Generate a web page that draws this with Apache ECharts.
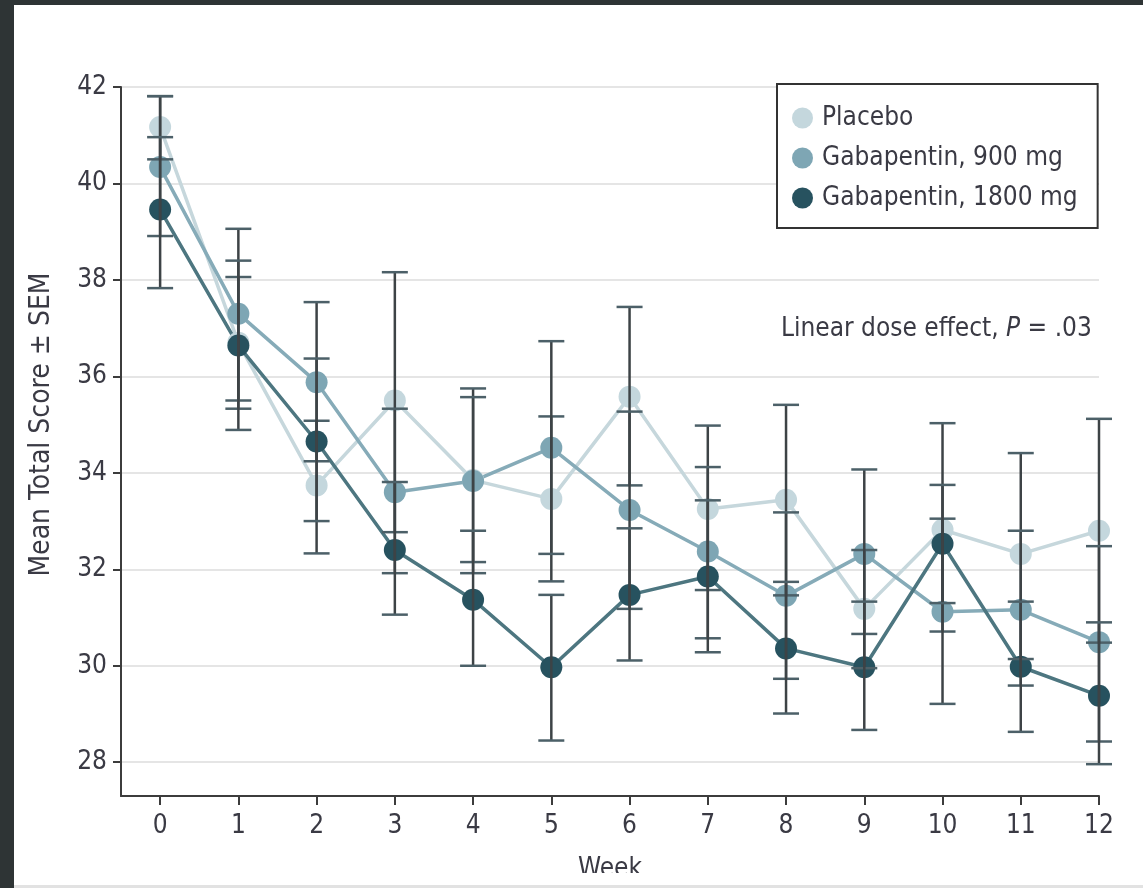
<!DOCTYPE html>
<html>
<head>
<meta charset="utf-8">
<title>Mean Total Score by Week</title>
<script src="https://cdn.jsdelivr.net/npm/echarts@6/dist/echarts.min.js"></script>
<style>
  html, body { margin: 0; padding: 0; background: #fff; }
  #chart { width: 1143px; height: 888px; }
</style>
</head>
<body>
<div id="chart"></div>
<script>
// weeks and y tick values
var weeks = [0, 1, 2, 3, 4, 5, 6, 7, 8, 9, 10, 11, 12];
var yTicks = [28, 30, 32, 34, 36, 38, 40, 42];
var seriesNames = ['Placebo', 'Gabapentin, 900 mg', 'Gabapentin, 1800 mg'];

// means
var placeboMean = [41.17, 36.70, 33.74, 35.50, 33.85, 33.46, 35.58, 33.25, 33.44, 31.18, 32.82, 32.32, 32.80];
var gaba900Mean = [40.34, 37.30, 35.88, 33.60, 33.83, 34.52, 33.23, 32.37, 31.45, 32.32, 31.12, 31.16, 30.49];
var gaba1800Mean = [39.46, 36.64, 34.65, 32.40, 31.37, 29.97, 31.47, 31.85, 30.36, 29.97, 32.53, 29.98, 29.38];

// error bar ends (mean ± SEM)
var placeboHigh = [41.81, 38.06, 35.08, 38.16, 35.75, 35.17, 37.44, 34.98, 35.41, 32.40, 35.03, 34.41, 35.12];
var placeboLow = [40.50, 35.33, 32.33, 32.77, 31.92, 31.75, 33.74, 31.57, 31.46, 29.95, 30.71, 30.14, 30.48];
var gaba900High = [41.81, 39.06, 37.54, 35.33, 35.57, 36.73, 35.27, 34.12, 33.18, 34.07, 33.05, 32.80, 32.48];
var gaba900Low = [38.91, 35.50, 34.24, 31.92, 32.15, 32.32, 31.18, 30.57, 29.73, 30.66, 29.21, 29.59, 28.43];
var gaba1800High = [40.96, 38.40, 36.37, 33.81, 32.80, 31.47, 32.85, 33.43, 31.74, 31.33, 33.75, 31.33, 30.90];
var gaba1800Low = [37.83, 34.89, 33.00, 31.06, 30.00, 28.45, 30.11, 30.28, 29.01, 28.67, 31.30, 28.63, 27.96];

var FONT = "'DejaVu Sans Condensed', 'Liberation Sans Narrow', sans-serif";
var FS = 26;
var TEXT = '#3a3a44';
var AXIS = '#3c3c3c';

function pairs(xs, ys) {
  return xs.map(function (x, i) { return [x, ys[i]]; });
}
function bars(xs, lo, hi) {
  return xs.map(function (x, i) { return [x, lo[i], hi[i]]; });
}

function renderErrorBar(params, api) {
  var lo = api.coord([api.value(0), api.value(1)]);
  var hi = api.coord([api.value(0), api.value(2)]);
  var w = 13;
  return {
    type: 'group',
    children: [
      { type: 'line', shape: { x1: hi[0], y1: hi[1], x2: lo[0], y2: lo[1] },
        style: { stroke: '#3d4346', lineWidth: 2.5 } },
      { type: 'line', shape: { x1: hi[0] - w, y1: hi[1], x2: hi[0] + w, y2: hi[1] },
        style: { stroke: '#4c6068', lineWidth: 2.5 } },
      { type: 'line', shape: { x1: lo[0] - w, y1: lo[1], x2: lo[0] + w, y2: lo[1] },
        style: { stroke: '#4c6068', lineWidth: 2.5 } }
    ]
  };
}

function lineSeries(name, data, dot, line) {
  return {
    name: name,
    type: 'line',
    data: data,
    symbol: 'circle',
    symbolSize: 22,
    itemStyle: { color: dot },
    lineStyle: { color: line, width: 3.5 },
    z: 2
  };
}
function errSeries(data) {
  return {
    type: 'custom',
    renderItem: renderErrorBar,
    data: data,
    encode: { x: 0, y: [1, 2] },
    z: 5,
    silent: true
  };
}

var chart = echarts.init(document.getElementById('chart'), null, { renderer: 'canvas' });

var option = {
  animation: false,
  backgroundColor: '#fff',
  textStyle: { fontFamily: FONT, color: TEXT },
  title: {
    text: '{a|Linear dose effect, }{p|P}{a| = .03}',
    left: 781,
    top: 316,
    padding: 0,
    textStyle: {
      rich: {
        a: { fontFamily: FONT, fontSize: FS, color: TEXT, fontWeight: 'normal' },
        p: { fontFamily: FONT, fontSize: FS, color: TEXT, fontWeight: 'normal', fontStyle: 'italic' }
      }
    }
  },
  legend: {
    data: seriesNames,
    orient: 'vertical',
    left: 777,
    top: 84,
    icon: 'circle',
    itemWidth: 21,
    itemHeight: 21,
    itemGap: 14,
    padding: [21, 20, 17, 15],
    borderColor: '#333',
    borderWidth: 2,
    backgroundColor: '#fff',
    textStyle: { fontFamily: FONT, fontSize: FS, color: TEXT, padding: [0, 0, 0, 4] }
  },
  grid: { left: 121, right: 44, top: 87, bottom: 92, outerBoundsMode: 'none' },
  xAxis: {
    type: 'value',
    min: -0.5,
    max: 12,
    name: 'Week',
    nameLocation: 'middle',
    nameGap: 60,
    nameTextStyle: { fontFamily: FONT, fontSize: FS, color: TEXT, verticalAlign: 'top' },
    axisLine: { onZero: false, lineStyle: { color: AXIS, width: 2 } },
    axisTick: { customValues: weeks, length: 9, lineStyle: { color: AXIS, width: 2 } },
    axisLabel: { customValues: weeks, margin: 17, fontFamily: FONT, fontSize: FS, color: TEXT },
    splitLine: { show: false }
  },
  yAxis: {
    type: 'value',
    min: 27.3,
    max: 42,
    name: 'Mean Total Score ± SEM',
    nameLocation: 'middle',
    nameGap: 65,
    nameTextStyle: { fontFamily: FONT, fontSize: 28, color: TEXT, padding: [0, 0, 0, 34] },
    axisLine: { show: true, onZero: false, lineStyle: { color: AXIS, width: 2 } },
    axisTick: { show: true, customValues: yTicks, length: 8, lineStyle: { color: AXIS, width: 2 } },
    axisLabel: { customValues: yTicks, margin: 14, fontFamily: FONT, fontSize: FS, color: TEXT },
    splitLine: { show: true, lineStyle: { color: '#dcdcdc', width: 1.5 } }
  },
  graphic: [
    { type: 'rect', shape: { x: 0, y: 0, width: 1143, height: 5 }, style: { fill: '#2e3435' }, z: 100 },
    { type: 'rect', shape: { x: 0, y: 0, width: 14, height: 888 }, style: { fill: '#2e3435' }, z: 100 },
    { type: 'rect', shape: { x: 14, y: 873, width: 1129, height: 15 }, style: { fill: '#fff' }, z: 99 },
    { type: 'rect', shape: { x: 14, y: 885, width: 1129, height: 3 }, style: { fill: '#e2e2e2' }, z: 100 }
  ],
  series: [
    lineSeries(seriesNames[0], pairs(weeks, placeboMean), '#c4d7dd', '#c6d7dc'),
    lineSeries(seriesNames[1], pairs(weeks, gaba900Mean), '#7ea6b4', '#86abb8'),
    lineSeries(seriesNames[2], pairs(weeks, gaba1800Mean), '#27525f', '#4d7680'),
    errSeries(bars(weeks, placeboLow, placeboHigh)),
    errSeries(bars(weeks, gaba900Low, gaba900High)),
    errSeries(bars(weeks, gaba1800Low, gaba1800High))
  ]
};

chart.setOption(option);
</script>
</body>
</html>
